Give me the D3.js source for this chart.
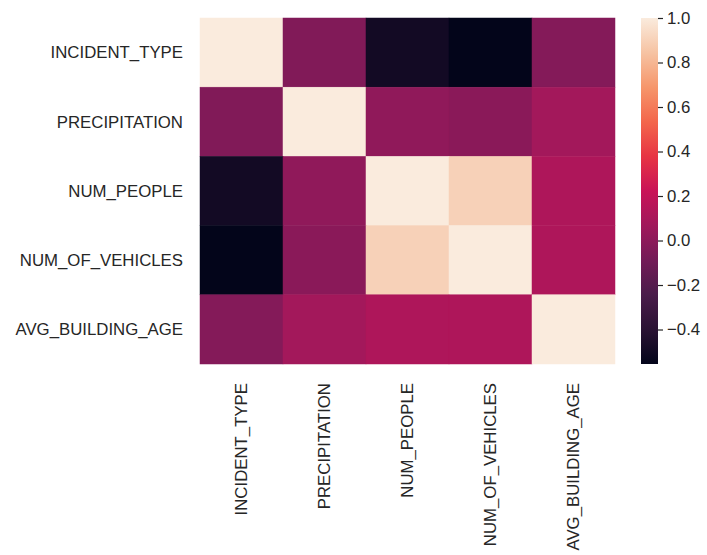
<!DOCTYPE html>
<html>
<head>
<meta charset="utf-8">
<script src="https://cdn.jsdelivr.net/npm/d3@7"></script>
<style>
  body { margin: 0; background: #fff; }
  text { font-family: "Liberation Sans", Arial, sans-serif; fill: #262626; }
</style>
</head>
<body>
<svg width="707" height="555"></svg>
<script>
// correlation matrix
var labels = ["INCIDENT_TYPE", "PRECIPITATION", "NUM_PEOPLE", "NUM_OF_VEHICLES", "AVG_BUILDING_AGE"];
var row0 = [1.00, -0.04, -0.49, -0.555, -0.03];
var row1 = [-0.04, 1.00, 0.01, -0.01, 0.08];
var row2 = [-0.49, 0.01, 1.00, 0.90, 0.12];
var row3 = [-0.555, -0.01, 0.90, 1.00, 0.12];
var row4 = [-0.03, 0.08, 0.12, 0.12, 1.00];
var matrix = [row0, row1, row2, row3, row4];
var cbarTicks = [-0.4, -0.2, 0.0, 0.2, 0.4, 0.6, 0.8, 1.0];

// seaborn "rocket" colormap, sampled every 0.1
var rocket = ["#03051a", "#2a1233", "#4a1c4a", "#731b57", "#a0185b", "#c91357",
              "#e73443", "#f3664b", "#f6966b", "#f6c3a3", "#faebdd"];

var svg = d3.select("svg"),
    margin = {top: 18, left: 200},
    width = 415,
    height = 346;

var cells = [];
matrix.forEach(function(r, i) {
  r.forEach(function(v, j) { cells.push({row: labels[i], col: labels[j], value: v}); });
});

var ext = d3.extent(cells, function(d) { return d.value; });

var x = d3.scaleBand().domain(labels).range([0, width]),
    y = d3.scaleBand().domain(labels).range([0, height]);

var t = d3.scaleLinear().domain(ext).range([0, 1]);
var rocketScale = d3.scaleLinear()
    .domain(rocket.map(function(c, i) { return i / (rocket.length - 1); }))
    .range(rocket)
    .interpolate(d3.interpolateRgb);
function color(v) { return rocketScale(t(v)); }

var chart = svg.append("g")
    .attr("transform", "translate(" + margin.left + "," + margin.top + ")");

chart.selectAll(".cell")
    .data(cells)
  .enter().append("rect")
    .attr("class", "cell")
    .attr("x", function(d) { return x(d.col); })
    .attr("y", function(d) { return y(d.row); })
    .attr("width", x.bandwidth())
    .attr("height", y.bandwidth())
    .attr("fill", function(d) { return color(d.value); })
    .attr("stroke", function(d) { return color(d.value); })
    .attr("stroke-width", 0.5);

// y labels
chart.selectAll(".ylab")
    .data(labels)
  .enter().append("text")
    .attr("class", "ylab")
    .attr("x", -17)
    .attr("y", function(d) { return y(d) + y.bandwidth() / 2; })
    .attr("dy", "0.35em")
    .attr("text-anchor", "end")
    .style("font-size", "16.8px")
    .text(function(d) { return d; });

// x labels, rotated
chart.selectAll(".xlab")
    .data(labels)
  .enter().append("text")
    .attr("class", "xlab")
    .attr("transform", function(d) {
      return "translate(" + (x(d) + x.bandwidth() / 2) + "," + (height + 19) + ") rotate(-90)";
    })
    .attr("dy", "0.35em")
    .attr("text-anchor", "end")
    .style("font-size", "16.8px")
    .text(function(d) { return d; });

// colorbar
var cb = svg.append("g").attr("transform", "translate(641," + margin.top + ")");
var cbW = 17;
var cy = d3.scaleLinear().domain(ext).range([height, 0]);

var grad = svg.append("defs").append("linearGradient")
    .attr("id", "cbgrad")
    .attr("x1", 0).attr("y1", 1).attr("x2", 0).attr("y2", 0);
grad.selectAll("stop")
    .data(rocket)
  .enter().append("stop")
    .attr("offset", function(d, i) { return i / (rocket.length - 1); })
    .attr("stop-color", function(d) { return d; });

cb.append("rect")
    .attr("width", cbW)
    .attr("height", height)
    .attr("fill", "url(#cbgrad)");

var cbAxis = cb.append("g")
    .attr("transform", "translate(" + cbW + ",0)")
    .call(d3.axisRight(cy).tickValues(cbarTicks).tickSize(5).tickPadding(4)
      .tickFormat(function(d) { return d3.format(".1f")(d).replace("-", "\u2212"); }));
cbAxis.select(".domain").remove();
cbAxis.selectAll("line").attr("stroke", "#262626").attr("stroke-width", 1.2);
cbAxis.selectAll("text")
    .style("font-size", "16.8px")
    .style("font-family", "Liberation Sans, Arial, sans-serif")
    .attr("fill", "#262626");
</script>
</body>
</html>
